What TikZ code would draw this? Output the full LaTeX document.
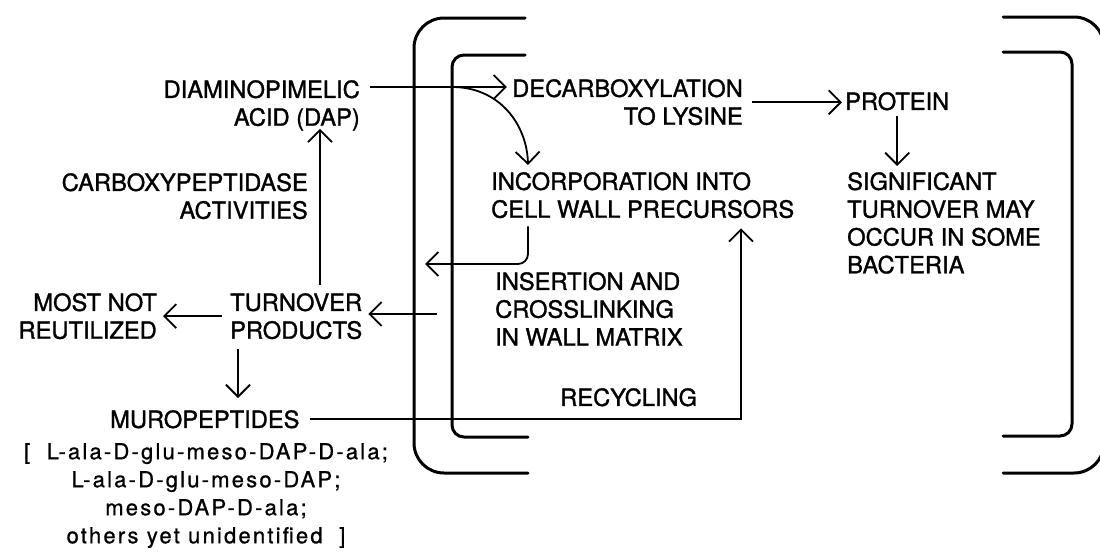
\documentclass[tikz,border=0pt]{standalone}
\usepackage{fontspec}
\setmainfont{TeX Gyre Heros}
\usetikzlibrary{calc,arrows.meta}
\newcommand{\lettering}{\fontsize{23.7}{27.8}\selectfont\addfontfeature{FakeBold=1.3}}
\newcommand{\peptidefont}{\fontsize{22}{28}\selectfont\addfontfeature{LetterSpace=10,FakeBold=0.8}}

\begin{document}
\begin{tikzpicture}[x=1pt,y=-1pt,>=Straight Barb,
  wall/.style={line width=3pt,line cap=round},
  flow/.style={line width=1.8pt,-{Straight Barb[length=12pt,width=24pt]}},
  every node/.style={font=\lettering,inner sep=0pt}]
  \clip (0,0) rectangle (1100,552);

  % Cell wall brackets.
  \draw[wall,rounded corners=30pt] (525,18)--(414,18)--(414,473)--(528,473);
  \draw[wall,rounded corners=12pt] (525,55)--(452,55)--(452,437)--(528,437);
  \draw[wall,rounded corners=30pt] (1003,17)--(1104,17)--(1104,473)--(1003,473);
  \draw[wall,rounded corners=12pt] (1003,52)--(1072,52)--(1072,436)--(1003,436);

  % Labels outside the wall.
  \node[anchor=north east,align=right] (dap) at (360,80) {DIAMINOPIMELIC\\ACID (DAP)};
  \node[anchor=north east,align=right] (carboxy) at (308,173) {CARBOXYPEPTIDASE\\ACTIVITIES};
  \node[anchor=north west,align=left] (turnover) at (230,293) {TURNOVER\\PRODUCTS};
  \node[anchor=north east,align=right] (mostnot) at (157,293) {MOST NOT\\REUTILIZED};
  \node[anchor=north west] (muro) at (110,410) {MUROPEPTIDES};
  \node[anchor=north,align=center,font=\peptidefont] (list) at (206,443)
    {[\ \ L-ala-D-glu-meso-DAP-D-ala;\\L-ala-D-glu-meso-DAP;\\meso-DAP-D-ala;\\others yet unidentified\ \ ]};

  % Labels inside the wall.
  \node[anchor=north east,align=right] (decarb) at (743,79) {DECARBOXYLATION\\TO LYSINE};
  \node[anchor=north west] (protein) at (845,92) {PROTEIN};
  \node[anchor=north west,align=left] (incorp) at (491,172) {INCORPORATION INTO\\CELL WALL PRECURSORS};
  \node[anchor=north west,align=left] (signif) at (847,172) {SIGNIFICANT\\TURNOVER MAY\\OCCUR IN SOME\\BACTERIA};
  \node[anchor=north west,align=left] (insert) at (495,272) {INSERTION AND\\CROSSLINKING\\IN WALL MATRIX};
  \node[anchor=north west] (recyc) at (560,388) {RECYCLING};

  \coordinate (exitpt) at (425,264);
  \coordinate (wallout) at (437,314);

  % Pathways.
  \draw[flow] ($(dap.north east)+(10,7)$) coordinate (dapout) -- ($(dapout -| decarb.west)+(-5,0)$);
  \draw[flow] (dapout -| 452,0) .. controls +(48,0) and +(-1,-40) .. ($(incorp.north west)+(37,-7)$);
  \draw[flow] ($(decarb.east |- protein.west)+(9,1)$) -- ($(protein.west)+(-3,1)$);
  \draw[flow] ($(protein.south)+(0,5)$) -- ($(protein.south |- signif.north)+(0,-6)$);
  \draw[flow,rounded corners=10pt] ($(incorp.south west)+(37,8)$) |- (exitpt);
  \draw[flow] (wallout) -- ($(wallout -| turnover.east)+(6,0)$);
  \draw[flow] ($(turnover.west)+(-8,0)$) -- ($(mostnot.east |- turnover.west)+(6,0)$);
  \draw[flow] ($(turnover.south west)+(8,10)$) -- ($(turnover.south west |- muro.north)+(8,-12)$);
  \draw[flow] ($(turnover.north west)+(90,-8)$) -- ($(turnover.north west |- dap.south)+(90,-2)$);
  \draw[flow] ($(muro.east)+(10,0)$) -| ($(incorp.south west)+(250,10)$);
\end{tikzpicture}
\end{document}
